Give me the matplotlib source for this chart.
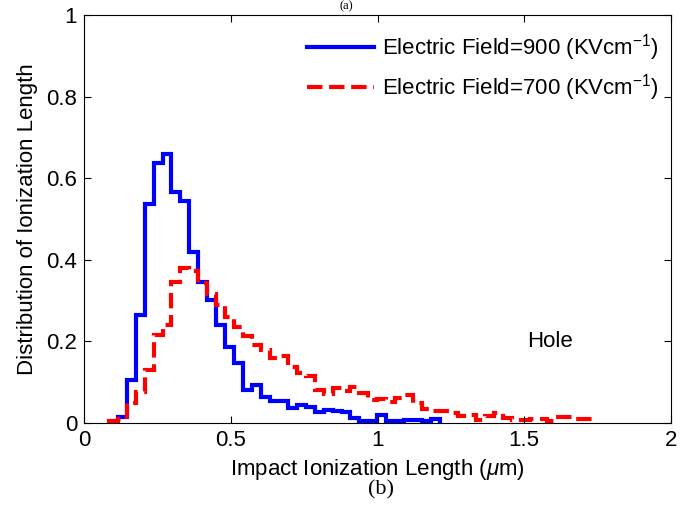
import numpy as np
import matplotlib
matplotlib.use("Agg")
import matplotlib.pyplot as plt

plt.rcParams['font.family'] = ['Liberation Sans', 'DejaVu Sans']
plt.rcParams['mathtext.fontset'] = 'custom'
plt.rcParams['mathtext.rm'] = 'Liberation Sans'
plt.rcParams['mathtext.it'] = 'Liberation Sans:italic'

# histogram grid (um)
BIN_START = 0.0845
BIN_WIDTH = 0.0305

# distribution, field = 900 kV/cm (starts one bin later)
blue_vals = [0.015, 0.105, 0.265, 0.537, 0.637, 0.659, 0.567, 0.545, 0.418, 0.346,
             0.302, 0.240, 0.187, 0.146, 0.080, 0.093, 0.064, 0.055, 0.055, 0.036,
             0.044, 0.040, 0.028, 0.032, 0.030, 0.028, 0.012, 0.004, 0.004, 0.020,
             0.004, 0.004, 0.007, 0.007, 0.005, 0.010]

# distribution, field = 700 kV/cm
red_vals = [0.004, 0.010, 0.048, 0.077, 0.130, 0.216, 0.240, 0.346, 0.379, 0.372,
            0.343, 0.316, 0.289, 0.260, 0.235, 0.213, 0.191, 0.179, 0.159, 0.163,
            0.138, 0.122, 0.115, 0.082, 0.070, 0.085, 0.078, 0.089, 0.073, 0.056,
            0.060, 0.052, 0.062, 0.068, 0.048, 0.035, 0.030, 0.029, 0.024, 0.016,
            0.020, 0.007, 0.016, 0.024, 0.013, 0.007, 0.008, 0.011, 0.009, 0.004,
            0.014, 0.015, 0.009, 0.009]

red_edges = BIN_START + BIN_WIDTH * np.arange(len(red_vals) + 1)
blue_edges = BIN_START + BIN_WIDTH * np.arange(1, len(blue_vals) + 2)

fig = plt.figure(figsize=(6.92, 5.08), dpi=100)
ax = fig.add_axes([84 / 692, 1 - 423 / 508, 587 / 692, 408 / 508])

ax.stairs(blue_vals, blue_edges, color=(0, 0, 1), lw=3,
          label='Electric Field=900 (KVcm$^{-1}$)')
ax.stairs(red_vals, red_edges, color=(1, 0, 0), lw=3, ls='--',
          label='Electric Field=700 (KVcm$^{-1}$)')

ax.set_xlim(0, 2)
ax.set_ylim(0, 1)
ax.set_xticks([0, 0.5, 1, 1.5, 2])
ax.set_xticklabels(['0', '0.5', '1', '1.5', '2'])
ax.set_yticks([0, 0.2, 0.4, 0.6, 0.8, 1])
ax.set_yticklabels(['0', '0.2', '0.4', '0.6', '0.8', '1'])
ax.tick_params(direction='in', top=True, right=True, length=5, labelsize=16, pad=5)
for s in ax.spines.values():
    s.set_linewidth(0.8)

ax.set_xlabel(r'Impact Ionization Length ($\mu$m)', fontsize=16, labelpad=4)
ax.set_ylabel('Distribution of Ionization Length', fontsize=16, labelpad=6)

ax.text(1.51, 0.2, 'Hole', fontsize=16, va='center', ha='left')

ax.legend(loc='upper left', bbox_to_anchor=(0.38, 0.958), frameon=False,
          fontsize=16, handlelength=3.0, handletextpad=0.36, borderpad=0,
          borderaxespad=0, labelspacing=0.4)

fig.text(0.5, 1.0, '(a)', family=['Liberation Serif'], fontsize=9, ha='center', va='top')
fig.text(381 / 692, 1 - 490 / 508, '(b)', family=['Liberation Serif'], fontsize=16,
         ha='center', va='center')

fig.savefig('out.png', dpi=100)
